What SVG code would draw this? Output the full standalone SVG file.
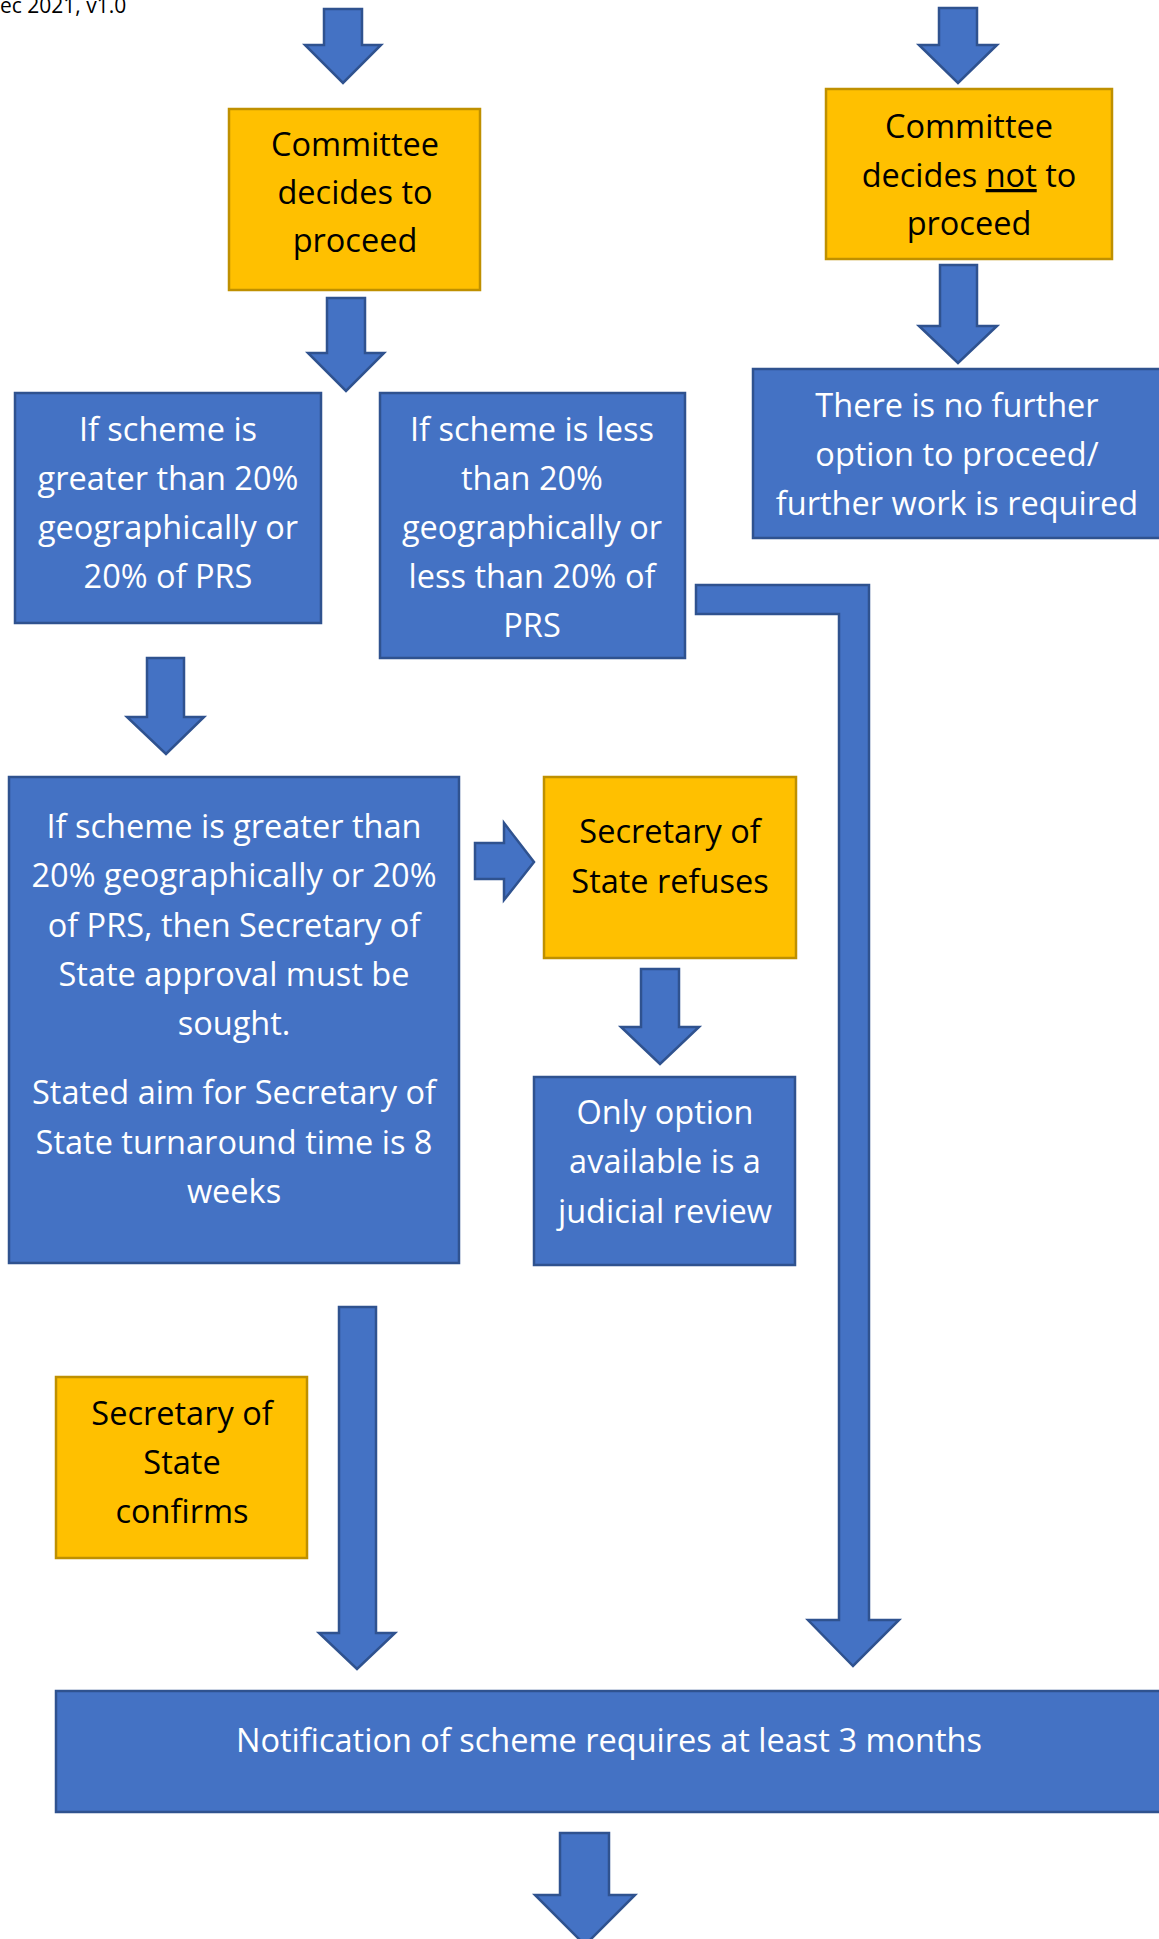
<svg xmlns="http://www.w3.org/2000/svg" width="1159" height="1939" viewBox="0 0 1159 1939">
<style>
.b{fill:#4472C4;stroke:#2F528F;stroke-width:2.5}
.y{fill:#FFC000;stroke:#BF9000;stroke-width:2.5}
.a{fill:#4472C4;stroke:#2F528F;stroke-width:2.5;stroke-linejoin:miter}
.t{font-family:"Open Sans","Liberation Sans",sans-serif;font-size:32.5px;text-anchor:middle}
.w{fill:#FFFFFF}
.k{fill:#000000}
</style>
<rect width="1159" height="1939" fill="#FFFFFF"/>
<text x="0" y="13" font-family="Open Sans, Liberation Sans, sans-serif" font-size="21" fill="#000000">ec 2021, v1.0</text>
<g id="connectors">
<polygon class="a" points="324,9 362,9 362,45 381,45 343,83 305,45 324,45"/>
<polygon class="a" points="327,298 365,298 365,353 384,353 346,391 308,353 327,353"/>
<polygon class="a" points="939,8 977,8 977,45 997,45 958,83 919,45 939,45"/>
<polygon class="a" points="940,265 977,265 977,326 997,326 958,363 919,326 940,326"/>
<polygon class="a" points="147,658 184,658 184,717 204,717 166,754 127,717 147,717"/>
<polygon class="a" points="475,843 504,843 504,823 534,862 504,900 504,879 475,879"/>
<polygon class="a" points="641,969 679,969 679,1027 699,1027 660,1064 621,1027 641,1027"/>
<polygon class="a" points="339,1307 376,1307 376,1633 395,1633 357,1669 319,1633 339,1633"/>
<polygon class="a" points="696,585 869,585 869,1620 899,1620 853,1666 808,1620 839,1620 839,614 696,614"/>
<polygon class="a" points="560,1833 609,1833 609,1895 635,1895 585,1945 535,1895 560,1895"/>
</g>
<g id="node-committee-proceed">
<rect class="y" x="229" y="109" width="251" height="181"/>
<text class="t k"><tspan x="355" y="156">Committee</tspan><tspan x="355" y="204">decides to</tspan><tspan x="355" y="252">proceed</tspan></text>
</g>
<g id="node-committee-not">
<rect class="y" x="826" y="89" width="286" height="170"/>
<text class="t k"><tspan x="969" y="138">Committee</tspan><tspan x="969" y="187">decides <tspan style="text-decoration:underline">not</tspan> to</tspan><tspan x="969" y="235">proceed</tspan></text>
</g>
<g id="node-no-further">
<rect class="b" x="753" y="369" width="408" height="169"/>
<text class="t w"><tspan x="957" y="417">There is no further</tspan><tspan x="957" y="466">option to proceed/</tspan><tspan x="957" y="515">further work is required</tspan></text>
</g>
<g id="node-greater">
<rect class="b" x="15" y="393" width="306" height="230"/>
<text class="t w"><tspan x="168" y="441">If scheme is</tspan><tspan x="168" y="490">greater than 20%</tspan><tspan x="168" y="539">geographically or</tspan><tspan x="168" y="588">20% of PRS</tspan></text>
</g>
<g id="node-less">
<rect class="b" x="380" y="393" width="305" height="265"/>
<text class="t w"><tspan x="532" y="441">If scheme is less</tspan><tspan x="532" y="490">than 20%</tspan><tspan x="532" y="539">geographically or</tspan><tspan x="532" y="588">less than 20% of</tspan><tspan x="532" y="637">PRS</tspan></text>
</g>
<g id="node-sos-approval">
<rect class="b" x="9" y="777" width="450" height="486"/>
<text class="t w"><tspan x="234" y="838">If scheme is greater than</tspan><tspan x="234" y="887">20% geographically or 20%</tspan><tspan x="234" y="937">of PRS, then Secretary of</tspan><tspan x="234" y="986">State approval must be</tspan><tspan x="234" y="1035">sought.</tspan><tspan x="234" y="1104">Stated aim for Secretary of</tspan><tspan x="234" y="1154">State turnaround time is 8</tspan><tspan x="234" y="1203">weeks</tspan></text>
</g>
<g id="node-sos-refuses">
<rect class="y" x="544" y="777" width="252" height="181"/>
<text class="t k"><tspan x="670" y="843">Secretary of</tspan><tspan x="670" y="893">State refuses</tspan></text>
</g>
<g id="node-judicial">
<rect class="b" x="534" y="1077" width="261" height="188"/>
<text class="t w"><tspan x="665" y="1124">Only option</tspan><tspan x="665" y="1173">available is a</tspan><tspan x="665" y="1223">judicial review</tspan></text>
</g>
<g id="node-sos-confirms">
<rect class="y" x="56" y="1377" width="251" height="181"/>
<text class="t k"><tspan x="182" y="1425">Secretary of</tspan><tspan x="182" y="1474">State</tspan><tspan x="182" y="1523">confirms</tspan></text>
</g>
<g id="node-notification">
<rect class="b" x="56" y="1691" width="1106" height="121"/>
<text class="t w" x="609" y="1752">Notification of scheme requires at least 3 months</text>
</g>
</svg>
